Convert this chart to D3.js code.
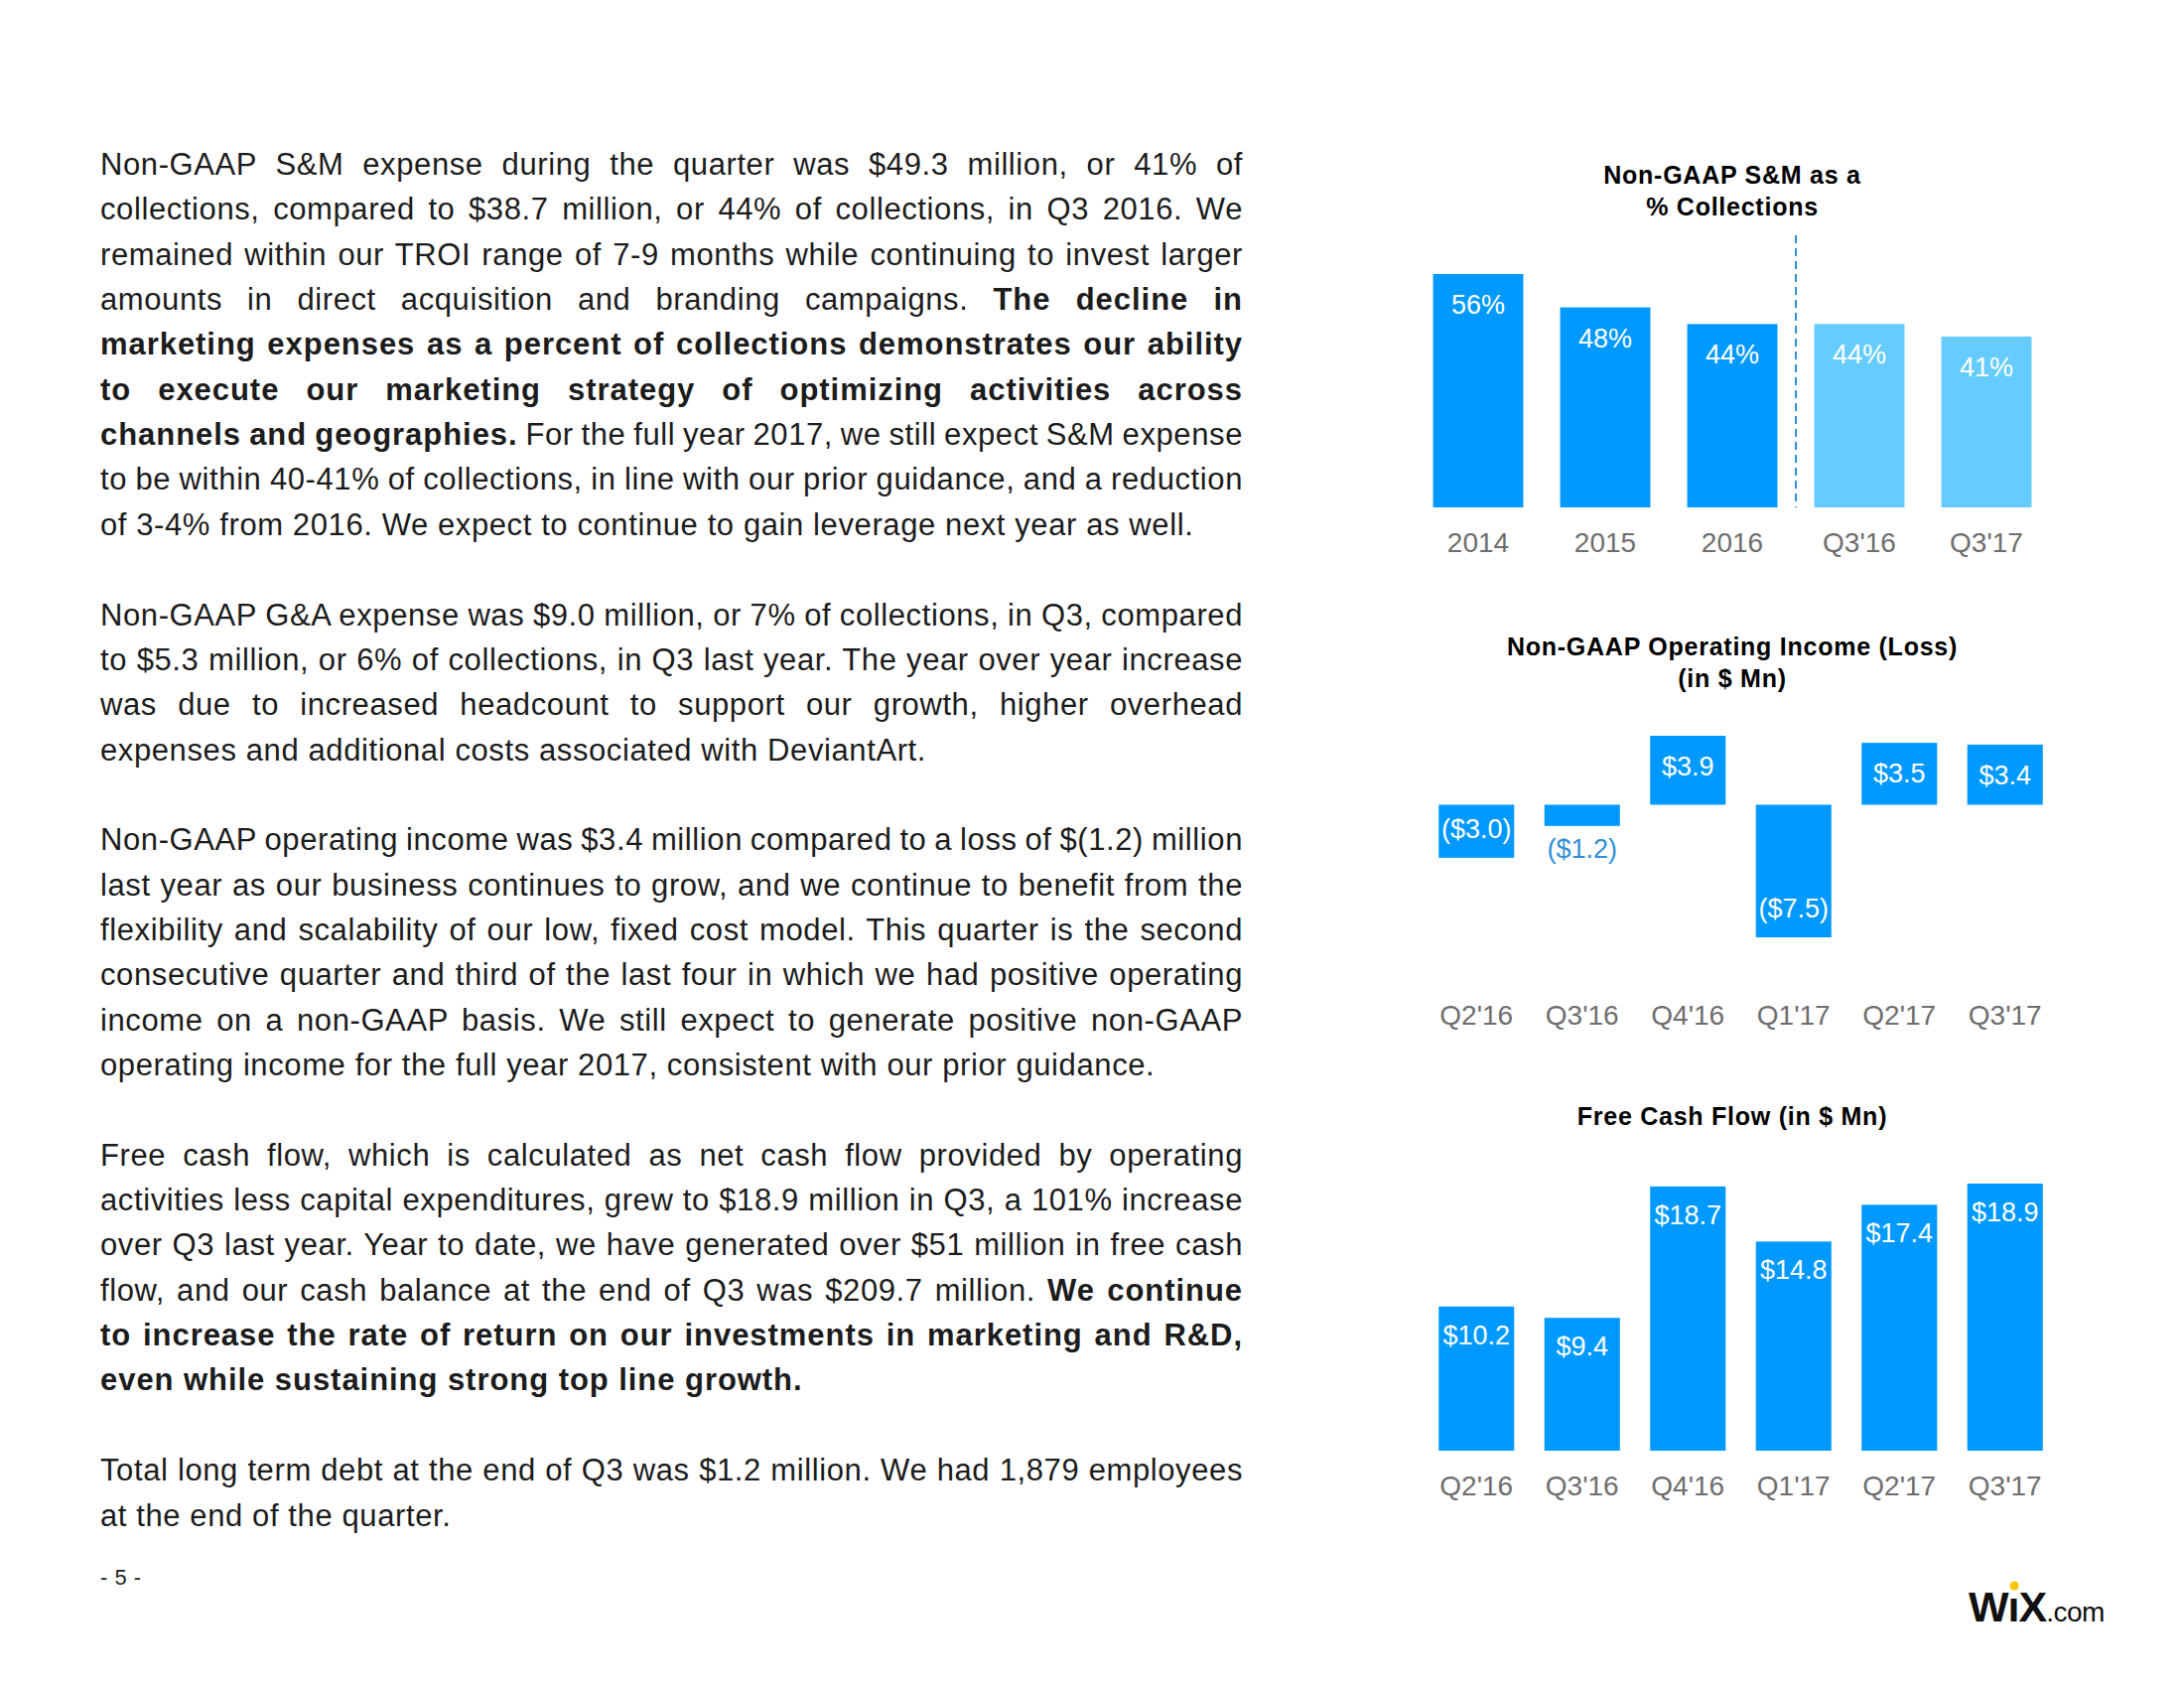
<!DOCTYPE html>
<html><head><meta charset="utf-8">
<script src="https://cdn.jsdelivr.net/npm/d3@7"></script>
<style>
body{margin:0;background:#fff}
svg text{white-space:pre}
</style>
</head><body>
<svg id="page" width="2200" height="1700"></svg>
<script>
// ---------- DATA ----------
const smCategories = ["2014", "2015", "2016", "Q3'16", "Q3'17"];
const smValues = [56, 48, 44, 44, 41];
const smPeriod = ["annual", "annual", "annual", "quarter", "quarter"];

const quarters = ["Q2'16", "Q3'16", "Q4'16", "Q1'17", "Q2'17", "Q3'17"];
const opIncome = [-3.0, -1.2, 3.9, -7.5, 3.5, 3.4];
const freeCashFlow = [10.2, 9.4, 18.7, 14.8, 17.4, 18.9];

const smTitle = ["Non-GAAP S&M as a", "% Collections"];
const opTitle = ["Non-GAAP Operating Income (Loss)", "(in $ Mn)"];
const fcfTitle = ["Free Cash Flow (in $ Mn)"];

const bodyParagraphs = [
  [
    "Non-GAAP S&M expense during the quarter was $49.3 million, or 41% of",
    "collections, compared to $38.7 million, or 44% of collections, in Q3 2016. We",
    "remained within our TROI range of 7-9 months while continuing to invest larger",
    "amounts in direct acquisition and branding campaigns. **The decline in**",
    "**marketing expenses as a percent of collections demonstrates our ability**",
    "**to execute our marketing strategy of optimizing activities across**",
    "**channels and geographies.** For the full year 2017, we still expect S&M expense",
    "to be within 40-41% of collections, in line with our prior guidance, and a reduction",
    "of 3-4% from 2016. We expect to continue to gain leverage next year as well."
  ],
  [
    "Non-GAAP G&A expense was $9.0 million, or 7% of collections, in Q3, compared",
    "to $5.3 million, or 6% of collections, in Q3 last year. The year over year increase",
    "was due to increased headcount to support our growth, higher overhead",
    "expenses and additional costs associated with DeviantArt."
  ],
  [
    "Non-GAAP operating income was $3.4 million compared to a loss of $(1.2) million",
    "last year as our business continues to grow, and we continue to benefit from the",
    "flexibility and scalability of our low, fixed cost model. This quarter is the second",
    "consecutive quarter and third of the last four in which we had positive operating",
    "income on a non-GAAP basis. We still expect to generate positive non-GAAP",
    "operating income for the full year 2017, consistent with our prior guidance."
  ],
  [
    "Free cash flow, which is calculated as net cash flow provided by operating",
    "activities less capital expenditures, grew to $18.9 million in Q3, a 101% increase",
    "over Q3 last year. Year to date, we have generated over $51 million in free cash",
    "flow, and our cash balance at the end of Q3 was $209.7 million. **We continue**",
    "**to increase the rate of return on our investments in marketing and R&D,**",
    "**even while sustaining strong top line growth.**"
  ],
  [
    "Total long term debt at the end of Q3 was $1.2 million. We had 1,879 employees",
    "at the end of the quarter."
  ]
];
const pageNumber = "- 5 -";

// ---------- STYLE ----------
const FONT = "'Liberation Sans', Arial, Helvetica, sans-serif";
const BLUE = "#0099ff";
const LIGHT_BLUE = "#66ccff";
const LABEL_BLUE = "#2f8fd6";
const TICK_GRAY = "#6e6e6e";

const svg = d3.select("#page");
svg.append("rect").attr("width", 2200).attr("height", 1700).attr("fill", "#fff");

// ---------- BODY TEXT ----------
const textLeft = 101, textRight = 1252, textW = textRight - textLeft;
const firstBaseline = 176, lineH = 45.35;
const body = svg.append("g").attr("font-family", FONT).attr("font-size", 31).attr("fill", "#1c1c1c");
let lineIdx = 0;
bodyParagraphs.forEach(par => {
  par.forEach((line, li) => {
    const y = firstBaseline + lineIdx * lineH;
    const t = body.append("text").attr("x", textLeft).attr("y", y);
    const segs = line.split("**");
    segs.forEach((s, si) => {
      if (!s) return;
      const bold = si % 2 === 1;
      t.append("tspan").attr("font-weight", bold ? "bold" : "normal")
        .attr("letter-spacing", bold ? 0.95 : 0.6).text(s);
    });
    if (li < par.length - 1) {
      const nat = t.node().getComputedTextLength();
      const spaces = (line.replace(/\*\*/g, "").match(/ /g) || []).length;
      if (spaces > 0) t.attr("word-spacing", (textW - nat) / spaces);
    }
    lineIdx++;
  });
  lineIdx++;
});
svg.append("text").attr("x", textLeft).attr("y", 1596)
  .attr("font-family", FONT).attr("font-size", 22).attr("letter-spacing", 0.5)
  .attr("fill", "#222").text(pageNumber);

// ---------- helpers ----------
function titleBlock(lines, cx, y0, dy) {
  const t = svg.append("text").attr("font-family", FONT).attr("font-weight", "bold")
    .attr("font-size", 25).attr("letter-spacing", 0.75).attr("fill", "#000").attr("text-anchor", "middle");
  lines.forEach((l, i) => t.append("tspan").attr("x", cx).attr("y", y0 + i * dy).text(l));
}
function bottomAxis(x, baseline) {
  const g = svg.append("g").attr("transform", `translate(0,${baseline})`)
    .call(d3.axisBottom(x).tickSize(0).tickPadding(0));
  g.select(".domain").remove();
  g.selectAll("text").attr("y", 0).attr("dy", null)
    .attr("font-family", FONT).attr("font-size", 28).attr("fill", TICK_GRAY);
  return g;
}

// ---------- CHART 1: S&M as % collections ----------
{
  const x = d3.scaleBand().domain(smCategories).range([1425, 2065]).paddingInner(0.29).paddingOuter(0.145);
  const y = d3.scaleLinear().domain([0, 56]).range([511, 276]);
  const data = smCategories.map((c, i) => ({c, v: smValues[i], p: smPeriod[i]}));
  titleBlock(smTitle, 1745, 185, 32);
  svg.append("g").selectAll("rect").data(data).join("rect")
    .attr("x", d => x(d.c)).attr("width", x.bandwidth())
    .attr("y", d => y(d.v)).attr("height", d => y(0) - y(d.v))
    .attr("fill", d => d.p === "annual" ? BLUE : LIGHT_BLUE);
  svg.append("g").selectAll("text").data(data).join("text")
    .attr("x", d => x(d.c) + x.bandwidth() / 2).attr("y", d => y(d.v) + 40)
    .attr("text-anchor", "middle").attr("font-family", FONT).attr("font-size", 27)
    .attr("fill", "#fff").text(d => d.v + "%");
  const split = smPeriod.indexOf("quarter");
  const xs = (x(smCategories[split - 1]) + x.bandwidth() + x(smCategories[split])) / 2;
  svg.append("line").attr("x1", xs).attr("x2", xs).attr("y1", 237).attr("y2", y(0))
    .attr("stroke", LABEL_BLUE).attr("stroke-width", 2).attr("stroke-dasharray", "8,5");
  bottomAxis(x, 556);
}

// ---------- CHART 2: Operating income ----------
{
  const x = d3.scaleBand().domain(quarters).range([1434, 2073]).paddingInner(0.286).paddingOuter(0.143);
  const y = d3.scaleLinear().domain([-7.5, 3.9]).range([944, 741]);
  const data = quarters.map((q, i) => ({q, v: opIncome[i]}));
  const fmt = v => v < 0 ? "($" + Math.abs(v).toFixed(1) + ")" : "$" + v.toFixed(1);
  titleBlock(opTitle, 1745, 660, 32);
  svg.append("g").selectAll("rect").data(data).join("rect")
    .attr("x", d => x(d.q)).attr("width", x.bandwidth())
    .attr("y", d => Math.min(y(d.v), y(0))).attr("height", d => Math.abs(y(d.v) - y(0)))
    .attr("fill", BLUE);
  svg.append("g").selectAll("text").data(data).join("text")
    .attr("x", d => x(d.q) + x.bandwidth() / 2)
    .attr("y", d => {
      const h = Math.abs(y(d.v) - y(0));
      if (d.v >= 0) return y(d.v) + 40;
      if (h < 30) return y(d.v) + 32;
      return y(d.v) - 20;
    })
    .attr("text-anchor", "middle").attr("font-family", FONT).attr("font-size", 27)
    .attr("fill", d => Math.abs(y(d.v) - y(0)) < 30 ? LABEL_BLUE : "#fff")
    .text(d => fmt(d.v));
  bottomAxis(x, 1032);
}

// ---------- CHART 3: Free cash flow ----------
{
  const x = d3.scaleBand().domain(quarters).range([1434, 2073]).paddingInner(0.286).paddingOuter(0.143);
  const y = d3.scaleLinear().domain([0, 18.9]).range([1461, 1192]);
  const data = quarters.map((q, i) => ({q, v: freeCashFlow[i]}));
  titleBlock(fcfTitle, 1745, 1133, 32);
  svg.append("g").selectAll("rect").data(data).join("rect")
    .attr("x", d => x(d.q)).attr("width", x.bandwidth())
    .attr("y", d => y(d.v)).attr("height", d => y(0) - y(d.v))
    .attr("fill", BLUE);
  svg.append("g").selectAll("text").data(data).join("text")
    .attr("x", d => x(d.q) + x.bandwidth() / 2).attr("y", d => y(d.v) + 38)
    .attr("text-anchor", "middle").attr("font-family", FONT).attr("font-size", 27)
    .attr("fill", "#fff").text(d => "$" + d.v.toFixed(1));
  bottomAxis(x, 1506);
}

// ---------- LOGO ----------
{
  const t = svg.append("text").attr("x", 1983).attr("y", 1633).attr("font-family", FONT).attr("fill", "#111");
  t.append("tspan").attr("font-weight", "bold").attr("font-size", 43).attr("letter-spacing", -1).text("W\u0131X");
  t.append("tspan").attr("font-size", 28).attr("letter-spacing", -0.5).text(".com");
  const ext = t.node().getExtentOfChar(1);
  svg.append("circle").attr("cx", ext.x + ext.width / 2 + 1).attr("cy", 1633 - 36).attr("r", 4.5).attr("fill", "#f7c600");
}
</script>
</body></html>
